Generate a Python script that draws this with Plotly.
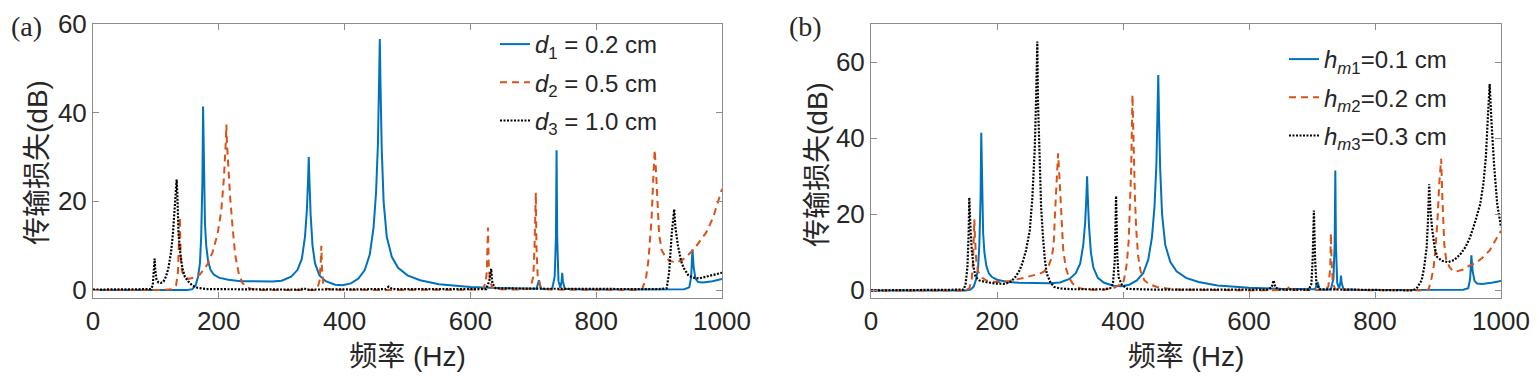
import plotly.graph_objects as go

# ---------------- data ----------------
# baseline curve: d1 = 0.2 cm (panel a) == hm1 = 0.1 cm (panel b)
freq_d1 = [0, 100, 150, 158, 163, 167, 170, 172, 174, 175, 176, 178, 180, 183, 187, 192, 200, 215,
           235, 260, 285, 300, 315, 325, 332, 337, 340, 342, 343, 344, 346, 349, 353, 360, 370, 385,
           397, 410, 422, 432, 440, 446, 450, 453, 455, 456, 457, 459, 462, 467, 475, 485, 500, 520,
           550, 600, 650, 700, 705, 709, 712, 720, 730, 734, 736, 737, 738, 740, 743, 745, 746, 747,
           750, 780, 850, 940, 948, 951, 953, 955, 958, 962, 970, 985, 1000]
tl_d1 = [0.0, 0.0, 0.0, 0.2, 1.0, 3.0, 6.0, 12.0, 25.0, 41.4, 28.0, 15.0, 10.0, 6.5, 4.5, 3.5, 2.8, 2.3,
         2.0, 1.9, 1.9, 2.1, 3.0, 4.5, 7.0, 12.0, 18.0, 25.0, 30.0, 25.0, 17.0, 10.0, 6.0, 3.3, 2.0, 1.2,
         1.1, 1.5, 2.6, 4.5, 8.0, 14.0, 22.0, 33.0, 47.0, 56.6, 47.0, 32.0, 20.0, 12.0, 7.5, 5.0, 3.3, 2.2,
         1.3, 0.7, 0.4, 0.2, 0.3, 2.2, 0.3, 0.2, 0.3, 3.0, 12.0, 31.5, 12.0, 2.0, 0.5, 2.0, 3.9, 2.0,
         0.3, 0.1, 0.1, 0.2, 0.6, 3.0, 9.2, 5.0, 2.5, 1.8, 1.7, 2.0, 2.5]

# d2 = 0.5 cm
freq_d2 = [0, 110, 125, 132, 135, 137, 138, 139, 140, 142, 146, 152, 160, 170, 182, 190, 198, 204, 208,
           211, 212, 213, 215, 218, 222, 226, 232, 238, 245, 253, 270, 300, 340, 352, 357, 360, 362, 363,
           364, 366, 370, 380, 450, 560, 610, 620, 624, 626, 628, 629, 631, 635, 645, 680, 695, 700,
           702, 704, 705, 707, 712, 725, 800, 860, 873, 879, 883, 888, 891, 893, 895, 897, 900, 904,
           908, 916, 927, 937, 947, 957, 965, 975, 986, 993, 1000]
tl_d2 = [0.0, 0.0, 0.2, 1.0, 4.0, 10.0, 16.5, 10.0, 6.0, 4.0, 3.0, 2.5, 2.8, 3.5, 5.8, 8.5, 12.6, 18.0, 25.0,
         33.0, 37.3, 33.0, 27.0, 21.0, 14.0, 8.0, 3.5, 1.5, 0.6, 0.2, 0.0, 0.0, 0.0, 0.0, 0.5, 2.0, 6.0, 10.0,
         5.0, 1.5, 0.3, 0.1, 0.0, 0.0, 0.1, 0.3, 1.5, 4.0, 14.1, 6.0, 2.0, 0.5, 0.2, 0.1, 0.3, 3.0,
         10.0, 22.0, 10.0, 3.0, 0.5, 0.1, 0.0, 0.0, 0.2, 2.5, 6.6, 16.0, 26.0, 31.6, 27.0, 21.7, 12.6, 9.0,
         8.0, 6.6, 6.2, 6.8, 8.0, 9.5, 11.0, 13.0, 16.4, 19.5, 22.8]

# d3 = 1.0 cm
freq_d3 = [0, 92, 95, 97, 98, 99, 101, 104, 108, 112, 116, 120, 124, 127, 130, 132, 133, 134, 136, 139,
           142, 146, 151, 158, 166, 180, 330, 335, 340, 465, 470, 476, 625, 630, 633, 635, 640, 700,
           900, 912, 916, 920, 922, 924, 926, 930, 935, 939, 947, 955, 963, 975, 988, 1000]
tl_d3 = [0.1, 0.2, 1.0, 4.0, 7.1, 4.5, 2.3, 1.7, 1.6, 1.9, 3.0, 5.0, 8.5, 12.6, 18.0, 23.0, 24.9, 22.0, 12.6, 8.0,
         5.0, 3.0, 2.0, 1.0, 0.5, 0.2, 0.1, 0.4, 0.1, 0.2, 0.75, 0.2, 0.2, 2.0, 4.8, 1.5, 0.4, 0.3,
         0.2, 0.4, 4.0, 12.6, 16.0, 18.2, 14.0, 10.0, 6.5, 5.0, 3.2, 2.8, 2.6, 3.0, 3.4, 3.9]

# hm1 = 0.1 cm is the same baseline curve as d1
freq_hm1 = freq_d1
tl_hm1 = tl_d1

# hm2 = 0.2 cm
freq_hm2 = [0, 150, 156, 160, 162, 164, 165, 167, 170, 175, 182, 192, 205, 220, 240, 255, 268, 275, 282,
            287, 290, 292, 295, 297, 299, 301, 303, 305, 309, 314, 320, 326, 335, 350, 370, 385, 395,
            400, 403, 406, 409, 411, 413, 415, 417, 419, 421, 424, 428, 434, 442, 454, 470, 490, 600,
            660, 665, 670, 720, 726, 729, 730, 731, 733, 737, 745, 870, 885, 889, 893, 896, 899, 902,
            905, 907, 910, 913, 918, 924, 930, 940, 950, 960, 970, 982, 991, 1000]
tl_hm2 = [0.0, 0.0, 0.5, 3.0, 8.0, 18.7, 14.0, 8.0, 5.0, 3.5, 2.7, 2.3, 2.2, 2.5, 3.2, 3.8, 4.4, 5.0, 6.5,
          8.7, 12.0, 20.0, 28.0, 36.0, 30.0, 24.0, 16.0, 11.0, 6.0, 3.5, 1.8, 0.9, 0.4, 0.2, 0.2, 0.6, 1.5,
          1.7, 4.0, 7.0, 13.0, 21.0, 32.0, 51.4, 32.0, 24.0, 16.0, 9.0, 5.0, 2.6, 1.6, 0.9, 0.5, 0.2, 0.0,
          0.1, 1.3, 0.1, 0.1, 1.0, 6.0, 15.0, 8.0, 2.0, 0.3, 0.1, 0.0, 0.2, 2.6, 6.0, 11.0, 18.0, 28.0,
          34.6, 24.0, 12.0, 8.0, 6.2, 5.0, 5.0, 5.5, 6.5, 7.2, 8.5, 10.5, 13.0, 15.7]

# hm3 = 0.3 cm
freq_hm3 = [0, 147, 150, 153, 155, 156, 158, 160, 163, 166, 172, 182, 198, 213, 222, 229, 235, 240, 246,
            252, 256, 260, 262, 264, 265, 267, 270, 273, 276, 279, 285, 291, 300, 320, 370, 380, 384,
            387, 389, 391, 393, 398, 407, 450, 630, 636, 639, 642, 648, 695, 699, 701, 703, 705, 707,
            712, 860, 866, 874, 878, 882, 884, 886, 888, 891, 895, 899, 906, 916, 926, 936, 944, 951,
            959, 967, 972, 976, 979, 982, 985, 989, 994, 1000]
tl_hm3 = [0.0, 0.2, 1.5, 6.0, 15.0, 24.4, 16.0, 10.5, 6.0, 3.5, 2.6, 2.2, 1.8, 1.7, 2.3, 3.5, 5.0, 7.0, 10.5,
          15.7, 24.0, 37.5, 50.0, 65.4, 50.0, 39.0, 22.0, 14.0, 8.0, 4.4, 2.0, 0.9, 0.5, 0.3, 0.3, 0.6, 1.7,
          8.0, 24.8, 9.0, 3.5, 1.5, 0.4, 0.2, 0.2, 0.8, 2.6, 0.8, 0.2, 0.2, 1.7, 8.0, 21.0, 8.0, 1.7,
          0.3, 0.0, 0.5, 2.6, 6.0, 11.3, 18.0, 27.9, 21.0, 15.7, 11.0, 8.7, 7.8, 7.4, 8.0, 9.6, 11.5, 14.0,
          18.0, 22.7, 28.0, 35.0, 45.0, 54.2, 44.0, 33.0, 22.7, 16.6]

x_ticks = [0, 200, 400, 600, 800, 1000]
y_ticks_a = [0, 20, 40, 60]
y_ticks_b = [0, 20, 40, 60]

names_a = ["<i>d</i><sub>1</sub> = 0.2 cm", "<i>d</i><sub>2</sub> = 0.5 cm", "<i>d</i><sub>3</sub> = 1.0 cm"]
names_b = ["<i>h</i><sub><i>m</i>1</sub>=0.1 cm", "<i>h</i><sub><i>m</i>2</sub>=0.2 cm",
           "<i>h</i><sub><i>m</i>3</sub>=0.3 cm"]

x_title = "频率 (Hz)"
y_title = "传输损失(dB)"
panel_labels = ["(a)", "(b)"]

# ---------------- styling ----------------
BLUE = "#0072BD"
ORANGE = "#D95319"
BLACK = "#000000"
AXIS_GRAY = "#8c8c8c"
TXT = "#262626"
FONT = "Liberation Sans, Arial, Noto Sans CJK SC, sans-serif"
SERIF = "Liberation Serif, Times New Roman, serif"

styles = [dict(color=BLUE, width=2, dash="solid"),
          dict(color=ORANGE, width=2, dash="7px,5px"),
          dict(color=BLACK, width=2.2, dash="2px,1.5px")]

fig = go.Figure()

series_a = [(freq_d1, tl_d1), (freq_d2, tl_d2), (freq_d3, tl_d3)]
series_b = [(freq_hm1, tl_hm1), (freq_hm2, tl_hm2), (freq_hm3, tl_hm3)]

for i, (fx, fy) in enumerate(series_a):
    fig.add_trace(go.Scatter(x=fx, y=fy, mode="lines", name=names_a[i], line=styles[i],
                             xaxis="x", yaxis="y", legend="legend", legendgroup=f"a{i}"))
for i, (fx, fy) in enumerate(series_b):
    fig.add_trace(go.Scatter(x=fx, y=fy, mode="lines", name=names_b[i], line=styles[i],
                             xaxis="x2", yaxis="y2", legend="legend2", legendgroup=f"b{i}"))

# The html body adds an 8px margin, so the figure is drawn 8px right/down of the page origin.
OFF = 8
PAGE_W, PAGE_H = 1539, 380
W, H = PAGE_W - 2 * OFF, PAGE_H - 2 * OFF
# target plot-area edges in page pixels
A_L, A_R, B_L, B_R, P_T, P_B = 93, 722, 871, 1501, 24, 298
ML, MT = A_L - OFF, P_T - OFF
MR = W - (B_R - OFF)
MB = H - (P_B - OFF)
PW = W - ML - MR
PH = H - MT - MB


def px_x(p):  # page pixel -> paper x
    return (p - OFF - ML) / PW


def px_y(p):  # page pixel -> paper y
    return 1 - (p - OFF - MT) / PH


axis_common = dict(showline=True, linecolor=AXIS_GRAY, linewidth=1, mirror="ticks",
                   ticks="inside", ticklen=6, tickcolor=AXIS_GRAY, tickwidth=1,
                   showgrid=False, zeroline=False,
                   tickfont=dict(family=FONT, size=26, color=TXT))
xtitle_font = dict(family=FONT, size=28, color=TXT)
ytitle_font = dict(family=FONT, size=28, color=TXT)
legend_font = dict(family=FONT, size=24, color=TXT)

annotations = []
# panel labels (a), (b)
for lbl, xp in zip(panel_labels, [9, 787]):
    annotations.append(dict(text=lbl, xref="paper", yref="paper", x=px_x(xp), y=px_y(9),
                            xanchor="left", yanchor="top", showarrow=False,
                            font=dict(family=SERIF, size=28, color=TXT)))
# rotated y-axis titles
for xp, yp in [(37, 163), (817, 165)]:
    annotations.append(dict(text=y_title, xref="paper", yref="paper", x=px_x(xp), y=px_y(yp),
                            xanchor="center", yanchor="middle", textangle=-90, showarrow=False,
                            font=ytitle_font))

fig.update_layout(
    width=W, height=H,
    margin=dict(l=ML, r=MR, t=MT, b=MB, autoexpand=False),
    paper_bgcolor="white", plot_bgcolor="white",
    showlegend=True,
    xaxis=dict(domain=[0, px_x(A_R)], range=[0, 1000], tickvals=x_ticks, anchor="y",
               title=dict(text=x_title, font=xtitle_font, standoff=11), **axis_common),
    yaxis=dict(domain=[0, 1], range=[-1.8, 60], tickvals=y_ticks_a, anchor="x", **axis_common),
    xaxis2=dict(domain=[px_x(B_L), 1], range=[0, 1000], tickvals=x_ticks, anchor="y2",
                title=dict(text=x_title, font=xtitle_font, standoff=11), **axis_common),
    yaxis2=dict(domain=[0, 1], range=[-2, 70], tickvals=y_ticks_b, anchor="x2", **axis_common),
    legend=dict(x=px_x(495), y=px_y(22), xanchor="left", yanchor="top",
                bgcolor="rgba(0,0,0,0)", borderwidth=0, tracegroupgap=4,
                font=legend_font, itemwidth=30),
    legend2=dict(x=px_x(1284), y=px_y(37), xanchor="left", yanchor="top",
                 bgcolor="rgba(0,0,0,0)", borderwidth=0, tracegroupgap=4,
                 font=legend_font, itemwidth=30),
    annotations=annotations,
)

fig.write_html("out.html")
